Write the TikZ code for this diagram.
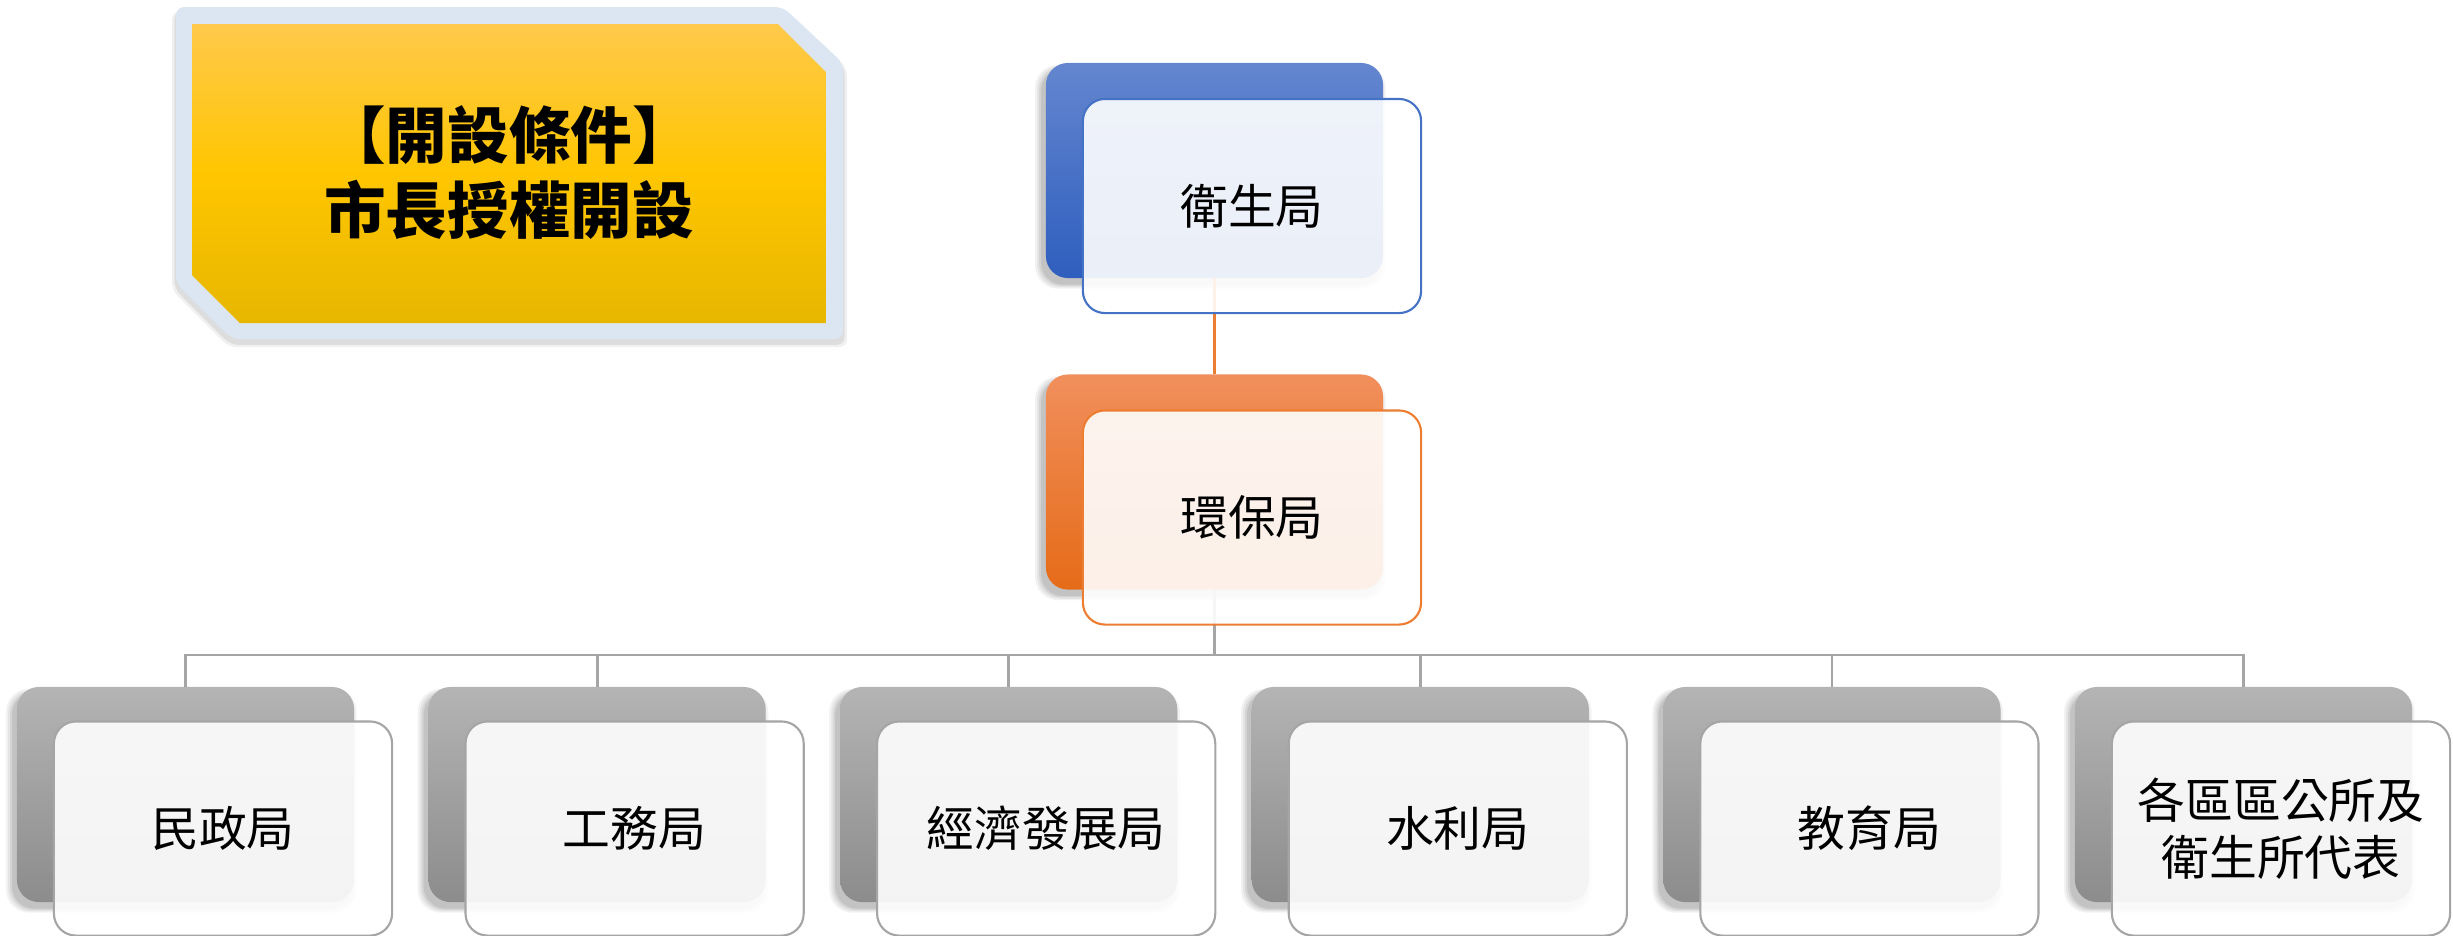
\documentclass[tikz,border=0pt]{standalone}
\usepackage{fontspec}
\newfontfamily\cjk{Noto Sans CJK TC}
\usetikzlibrary{shadows}
\definecolor{bannerbg}{RGB}{220,230,242}
\definecolor{ytop}{RGB}{255,201,76}
\definecolor{ymid}{RGB}{255,198,0}
\definecolor{ybot}{RGB}{231,182,0}
\definecolor{btop}{RGB}{100,134,207}
\definecolor{bbot}{RGB}{46,94,190}
\definecolor{bline}{RGB}{68,114,196}
\definecolor{otop}{RGB}{241,143,92}
\definecolor{obot}{RGB}{229,107,24}
\definecolor{oline}{RGB}{237,125,49}
\definecolor{gtop}{RGB}{180,180,180}
\definecolor{gbot}{RGB}{140,140,140}
\definecolor{gline}{RGB}{165,165,165}
\tikzset{
  soft/.style={
    general shadow={fill=black,opacity=0.05,shadow xshift=-0.04cm,shadow yshift=-0.06cm,shadow scale=1.04},
    general shadow={fill=black,opacity=0.06,shadow xshift=-0.04cm,shadow yshift=-0.06cm,shadow scale=1.028},
    general shadow={fill=black,opacity=0.07,shadow xshift=-0.04cm,shadow yshift=-0.06cm,shadow scale=1.016},
    general shadow={fill=black,opacity=0.08,shadow xshift=-0.04cm,shadow yshift=-0.06cm,shadow scale=1.005}},
  bannershadow/.style={
    general shadow={fill=black,opacity=0.06,shadow yshift=-0.06cm,shadow scale=1.012},
    general shadow={fill=black,opacity=0.08,shadow yshift=-0.05cm,shadow scale=1.005}},
  backbox/.style={rectangle, rounded corners=0.22cm, minimum width=3.37cm,
    minimum height=2.15cm, inner sep=0pt, outer sep=0pt, soft},
  bluebox/.style={backbox, top color=btop, bottom color=bbot},
  orangebox/.style={backbox, top color=otop, bottom color=obot},
  greybox/.style={backbox, top color=gtop, bottom color=gbot},
  frontbox/.style={rectangle, rounded corners=0.22cm, minimum width=3.38cm,
    minimum height=2.14cm, inner sep=0pt, outer sep=0pt, fill=white,
    fill opacity=0.9, text opacity=1, line width=0.6pt, align=center,
    font=\cjk\fontsize{13.6}{16.2}\selectfont},
  conn/.style={line width=0.8pt},
}
\begin{document}
\begin{tikzpicture}[x=0.01cm, y=-0.01cm]
\useasboundingbox (0,0) rectangle (2453,935);
% banner
\path[fill=bannerbg, rounded corners=0.08cm, bannershadow]
  (176,7) -- (783,7) -- (843,63) -- (843,339) -- (232,339) -- (176,283) -- cycle;
\path[top color=ytop, bottom color=ybot, middle color=ymid]
  (192,24) -- (778,24) -- (826,72) -- (826,323) -- (240,323) -- (192,275) -- cycle;
\node[font=\cjk\bfseries\fontsize{17.5}{21.3}\selectfont, align=center, inner sep=0pt]
  (title) at (509,173) {【開設條件】\\市長授權開設};
% back boxes
\node[bluebox] (b0) at (1214.5,170.5) {};
\node[orangebox] (b1) at (1214.5,482) {};
\foreach \k in {0,...,5}{
  \pgfmathsetmacro\cx{185.5+411.6*\k}
  \node[greybox] (bk\k) at (\cx,794.5) {};
}
% connectors
\draw[conn, oline] (b0.south) -- (b1.north);
\coordinate (bus) at (1214.5,655);
\draw[conn, gline] (b1.south) -- (bus);
\foreach \k in {0,...,5}{
  \draw[conn, gline] (bus) -| (bk\k.north);
}
% front boxes
\node[frontbox, draw=bline] (f0) at (1252,206) {衛生局};
\node[frontbox, draw=oline] (f1) at (1252,517.5) {環保局};
\foreach \k/\t in {0/民政局,1/工務局,2/經濟發展局,3/水利局,4/教育局,5/{各區區公所及\\衛生所代表}}{
  \pgfmathsetmacro\fx{223+411.6*\k}
  \node[frontbox, draw=gline] (fk\k) at (\fx,828.5) {\t};
}
\end{tikzpicture}
\end{document}
